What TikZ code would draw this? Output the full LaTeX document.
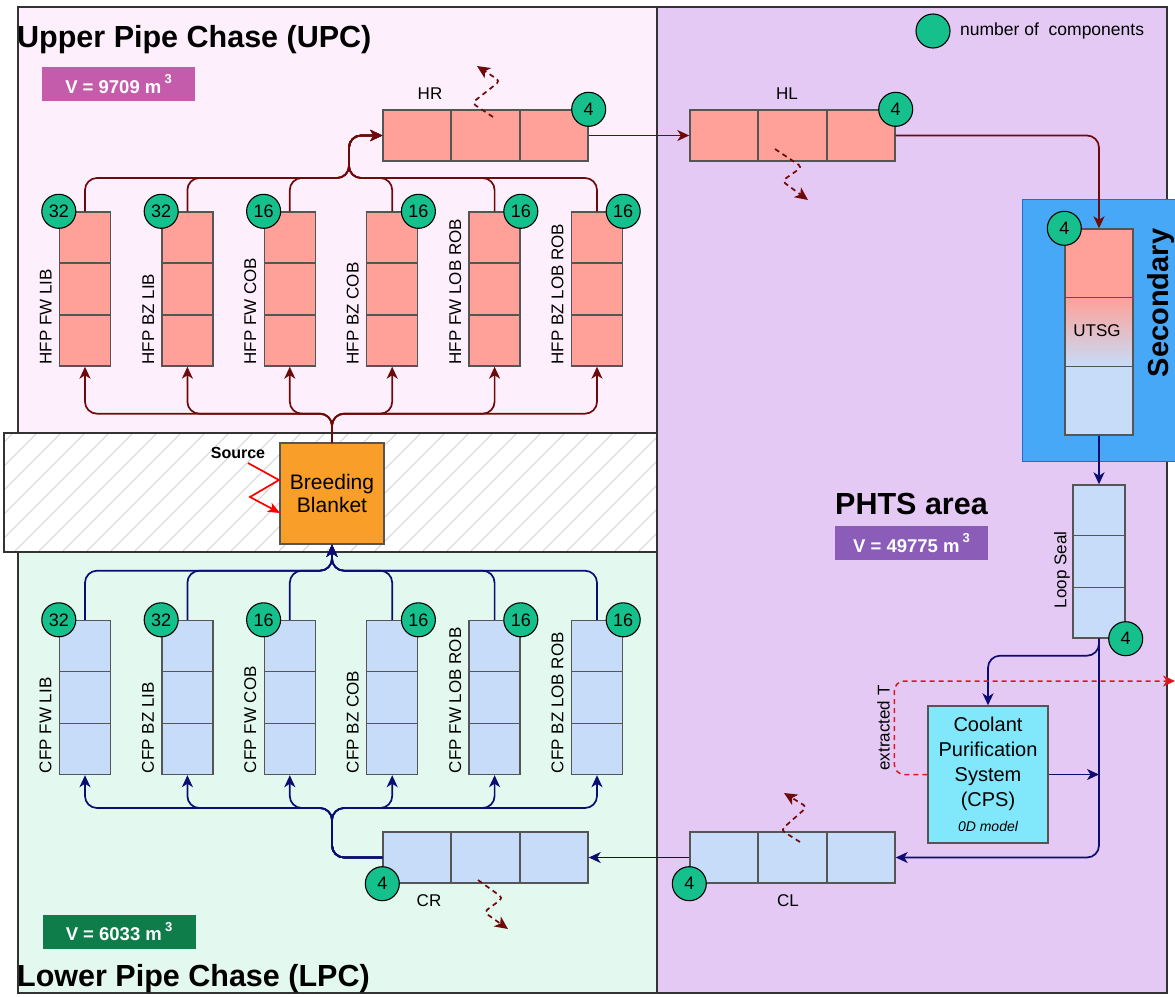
\documentclass[tikz,border=0pt]{standalone}
\usepackage{fontspec}
\setmainfont{Liberation Sans}
\usetikzlibrary{arrows.meta,calc}
\definecolor{upcbg}{HTML}{FDF0FC}
\definecolor{phtsbg}{HTML}{E5C9F5}
\definecolor{lpcbg}{HTML}{E3F8EF}
\definecolor{pipered}{HTML}{FFA198}
\definecolor{pipeblue}{HTML}{C6DCF8}
\definecolor{numgreen}{HTML}{16C08C}
\definecolor{flowred}{HTML}{6E0A0A}
\definecolor{flowblue}{HTML}{0C0C72}
\definecolor{upcv}{HTML}{C45CAB}
\definecolor{phtsv}{HTML}{8B5DB8}
\definecolor{lpcv}{HTML}{0E7D49}
\definecolor{secblue}{HTML}{48A8F8}
\definecolor{secedge}{HTML}{1B6FD1}
\definecolor{cpscyan}{HTML}{80E8FA}
\definecolor{bborange}{HTML}{FA9E2A}
\definecolor{extred}{HTML}{E0141E}
\definecolor{edgegray}{HTML}{555555}
\newcommand\fsz[1]{\fontsize{#1}{#1}\selectfont}
\newcommand\sups[1]{\,\raisebox{0.5em}{\fsz{13}#1}}
\begin{document}
\begin{tikzpicture}[x=1pt,y=-1pt,
  region/.style={draw=black!80, line width=1.5pt},
  pipebox/.style={draw=edgegray, line width=1.4pt, inner sep=0pt},
  hotpipe/.style={pipebox, fill=pipered},
  coldpipe/.style={pipebox, fill=pipeblue},
  hpipe/.style={minimum width=205pt, minimum height=51pt},
  vpipe/.style={minimum width=51pt, minimum height=154pt},
  celldiv/.style={draw=edgegray, line width=1.4pt},
  num/.style={circle, draw=black, line width=1.1pt, fill=numgreen, minimum size=34pt, inner sep=0pt, font=\fsz{18}},
  hotflow/.style={draw=flowred, line width=1.7pt, rounded corners=12pt, -{Stealth[length=12pt,width=11pt,inset=3.5pt]}},
  coldflow/.style={draw=flowblue, line width=1.7pt, rounded corners=12pt, -{Stealth[length=12pt,width=11pt,inset=3.5pt]}},
  extflow/.style={draw=extred, line width=1.5pt, dash pattern=on 5pt off 4pt, rounded corners=10pt, -{Stealth[length=12pt,width=11pt,inset=3.5pt]}},
  leak/.style={draw=flowred, line width=1.7pt, dash pattern=on 5pt off 4pt, rounded corners=4pt, -{Stealth[length=13pt,width=12pt,inset=3.5pt]}},
  lbl/.style={font=\fsz{17}, inner sep=0pt},
  vlbl/.style={lbl, rotate=90, anchor=south west},
  vbox/.style={text=white, font=\bfseries\fsz{18.5}, minimum width=153pt, minimum height=34pt, inner sep=0pt},
  titletext/.style={font=\bfseries\fsz{30.5}, inner sep=0pt, anchor=base west}
]
\useasboundingbox (0,0) rectangle (1175,996);
% region backgrounds
\fill[upcbg] (18,7) rectangle (657,433);
\fill[lpcbg] (18,552) rectangle (657,993);
\fill[phtsbg] (657,7) rectangle (1167,993);
\draw[region] (18,7) rectangle (1167,993);
\draw[region] (657,7) -- (657,993);
% hatched blanket band
\fill[white] (4,433) rectangle (657,552);
\begin{scope}
  \clip (4,433) rectangle (657,552);
  \foreach \i in {-130,-106,...,680} \draw[black!18, line width=0.8pt] (\i,552) -- (\i+119,433);
\end{scope}
\draw[region] (4,433) rectangle (657,552);
% titles and volumes
\node[titletext] (upct) at (17,47) {Upper Pipe Chase (UPC)};
\node[vbox, fill=upcv] (upcvol) at (118.5,84) {V = 9709 m\sups{3}};
\node[titletext] (lpct) at (17,986) {Lower Pipe Chase (LPC)};
\node[vbox, fill=lpcv] (lpcvol) at (119,931.5) {V = 6033 m\sups{3}};
\node[titletext] (phtst) at (835,514) {PHTS area};
\node[vbox, fill=phtsv] (phtsvol) at (911.5,543) {V = 49775 m\sups{3}};
% legend
\node[num] (legc) at (933,31) {};
\node[lbl, anchor=west, font=\fsz{17.5}] (legt) at (960,31) {number of\ \ components};
% secondary box
\node[draw=secedge, fill=secblue, line width=1.3pt, minimum width=160pt, minimum height=262pt, inner sep=0pt, anchor=north west] (sec) at (1022,199) {};
\node[font=\bfseries\fsz{29}, rotate=90, inner sep=0pt] (sect) at (1161,303) {Secondary};
% pipes
\node[hotpipe,hpipe] (HR) at (485.5,135.5) {};
\node[hotpipe,hpipe] (HL) at (792.5,135.5) {};
\node[coldpipe,hpipe] (CR) at (485.5,857.5) {};
\node[coldpipe,hpipe] (CL) at (792.5,857.5) {};
\foreach \n in {HR,HL,CR,CL}{
  \draw[celldiv] ($(\n.north west)!1/3!(\n.north east)$) -- ($(\n.south west)!1/3!(\n.south east)$);
  \draw[celldiv] ($(\n.north west)!2/3!(\n.north east)$) -- ($(\n.south west)!2/3!(\n.south east)$);
}
\foreach \i/\x in {1/85,2/187.4,3/289.8,4/392.2,5/494.6,6/597}{
  \node[hotpipe,vpipe] (h\i) at (\x,289) {};
  \node[coldpipe,vpipe] (c\i) at (\x,697.5) {};
}
\foreach \n in {h1,h2,h3,h4,h5,h6,c1,c2,c3,c4,c5,c6}{
  \draw[celldiv] ($(\n.north west)!1/3!(\n.south west)$) -- ($(\n.north east)!1/3!(\n.south east)$);
  \draw[celldiv] ($(\n.north west)!2/3!(\n.south west)$) -- ($(\n.north east)!2/3!(\n.south east)$);
}
% UTSG
\fill[pipered] (1065,229) rectangle (1133,298);
\shade[top color=pipered, bottom color=pipeblue] (1065,298) rectangle (1133,366);
\fill[pipeblue] (1065,366) rectangle (1133,435);
\node[pipebox, minimum width=68pt, minimum height=206pt] (UTSG) at (1099,332) {};
\draw[celldiv] ($(UTSG.north west)!1/3!(UTSG.south west)$) -- ($(UTSG.north east)!1/3!(UTSG.south east)$);
\draw[celldiv] ($(UTSG.north west)!2/3!(UTSG.south west)$) -- ($(UTSG.north east)!2/3!(UTSG.south east)$);
\node[lbl] (utsgt) at (1097,331) {UTSG};
% Loop seal
\node[coldpipe, minimum width=52pt, minimum height=153pt] (LS) at (1099,561.5) {};
\draw[celldiv] ($(LS.north west)!1/3!(LS.south west)$) -- ($(LS.north east)!1/3!(LS.south east)$);
\draw[celldiv] ($(LS.north west)!2/3!(LS.south west)$) -- ($(LS.north east)!2/3!(LS.south east)$);
\node[lbl, rotate=90] (lst) at (1062,570) {Loop Seal};
% Breeding blanket
\node[draw=edgegray, line width=1.4pt, fill=bborange, minimum width=104pt, minimum height=101pt, inner sep=0pt, align=center, font=\fontsize{21}{23}\selectfont] (BB) at (332,493.5) {Breeding\\Blanket};
\node[font=\bfseries\fsz{16}, inner sep=0pt] (src) at (238,453) {Source};
\coordinate (srcend) at (280,513);
\draw[draw=red, line width=1.7pt, -{Stealth[length=12pt,width=10pt,inset=3pt]}] (248,463) -- (279,480) -- (250,497) -- (srcend);
% CPS
\node[draw=edgegray, line width=1.4pt, fill=cpscyan, minimum width=120pt, minimum height=137pt, inner sep=0pt, align=center, font=\fontsize{20}{25}\selectfont] (CPS) at (988,774.5) {Coolant\\Purification\\System\\(CPS)\\{\fontsize{14}{25}\selectfont\itshape 0D model}};
% junction coordinates
\coordinate (upcjoin) at (349,178);
\coordinate (lpcdist) at (332,808);
\coordinate (exttip) at (1175,681);
% UPC flows
\foreach \i in {1,...,6} \draw[hotflow] (h\i.north) |- (upcjoin) |- (HR.west);
\foreach \i in {1,...,6} \draw[hotflow] (BB.north) |- ($(h\i.south)+(0,47)$) -- (h\i.south);
\draw[hotflow] (HR.east) -- (HL.west);
\draw[hotflow] (HL.east) -| (UTSG.north);
% LPC flows
\foreach \i in {1,...,6} \draw[coldflow] (c\i.north) |- ($(BB.south)+(0,26)$) -- (BB.south);
\foreach \i in {1,...,6} \draw[coldflow] (CR.west) -| (lpcdist) -| (c\i.south);
% PHTS flows
\draw[coldflow] (UTSG.south) -- (LS.north);
\draw[coldflow] (LS.south) |- (CL.east);
\draw[coldflow] (LS.south) -- ++(0,17) -| (CPS.north);
\draw[coldflow] (CPS.east) -- (CPS.east -| LS.south);
\draw[coldflow] (CL.west) -- (CR.east);
\draw[extflow] (CPS.west) -- ++(-33,0) |- (exttip);
\node[lbl, rotate=90] (extt) at (883.5,728) {extracted T};
% leak arrows
\draw[leak] (493,117) -- (472,103) -- (500,81) -- (477,66);
\draw[leak] (775,149) -- (802,167) -- (782,181) -- (808,200);
\draw[leak] (800,842) -- (781,830) -- (807,807) -- (784,793);
\draw[leak] (478,880) -- (503,898) -- (484,912) -- (508,929);
% pipe labels
\node[lbl] (hrt) at (430,94) {HR};
\node[lbl] (hlt) at (787,94) {HL};
\node[lbl] (crt) at (429,901) {CR};
\node[lbl] (clt) at (788,901) {CL};
\foreach \i/\t in {1/FW LIB,2/BZ LIB,3/FW COB,4/BZ COB,5/FW LOB ROB,6/BZ LOB ROB}{
  \node[vlbl] (hl\i) at ($(h\i.south west)+(-7,-2)$) {HFP \t};
  \node[vlbl] (cl\i) at ($(c\i.south west)+(-7,-2)$) {CFP \t};
}
% number circles
\node[num] (nh1) at (h1.north west) {32};
\node[num] (nh2) at (h2.north west) {32};
\node[num] (nh3) at (h3.north west) {16};
\node[num] (nh4) at (h4.north east) {16};
\node[num] (nh5) at (h5.north east) {16};
\node[num] (nh6) at (h6.north east) {16};
\node[num] (nc1) at (c1.north west) {32};
\node[num] (nc2) at (c2.north west) {32};
\node[num] (nc3) at (c3.north west) {16};
\node[num] (nc4) at (c4.north east) {16};
\node[num] (nc5) at (c5.north east) {16};
\node[num] (nc6) at (c6.north east) {16};
\node[num] (nhr) at (HR.north east) {4};
\node[num] (nhl) at (HL.north east) {4};
\node[num] (ncr) at (CR.south west) {4};
\node[num] (ncl) at (CL.south west) {4};
\node[num] (nut) at (UTSG.north west) {4};
\node[num] (nls) at (LS.south east) {4};
\end{tikzpicture}
\end{document}
